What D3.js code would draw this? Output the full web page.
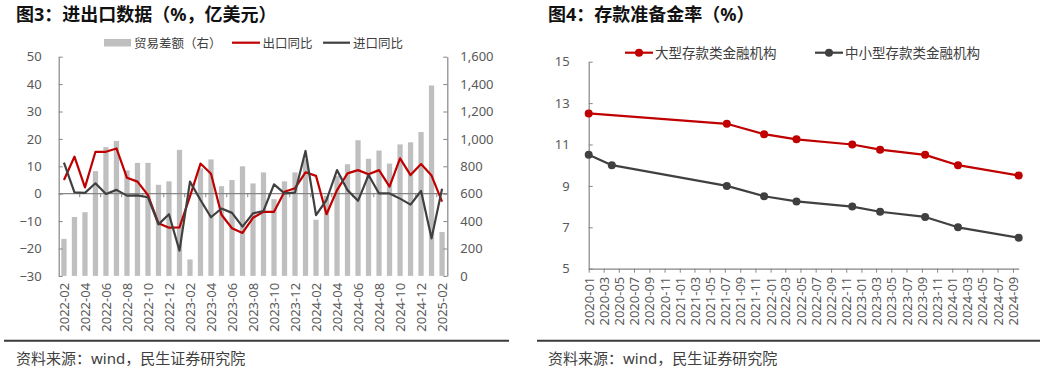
<!DOCTYPE html>
<html><head><meta charset="utf-8">
<script src="https://cdn.jsdelivr.net/npm/d3@7"></script>
<style>
body{margin:0;background:#fff;}
svg{font-family:"Noto Sans","Noto Sans CJK SC",sans-serif;}
</style></head><body>
<svg id="c" width="1043" height="370"></svg>
<script>
// ---------- Left chart data (图3) ----------
const months = ["2022-02","2022-03","2022-04","2022-05","2022-06","2022-07","2022-08","2022-09","2022-10","2022-11","2022-12",
"2023-01","2023-02","2023-03","2023-04","2023-05","2023-06","2023-07","2023-08","2023-09","2023-10","2023-11","2023-12",
"2024-01","2024-02","2024-03","2024-04","2024-05","2024-06","2024-07","2024-08","2024-09","2024-10","2024-11","2024-12",
"2025-01","2025-02"];
const tradeBalance = [270,430,465,765,940,985,770,825,825,665,690,920,120,785,850,655,700,800,675,755,560,690,755,850,410,585,730,815,990,855,915,820,960,975,1050,1390,320];
const exportYoY = [5.0,13.5,2.3,15.3,15.3,16.5,5.8,4.4,-0.5,-10.8,-12.4,-12.3,-1.0,11.0,7.3,-7.7,-12.6,-14.3,-8.8,-6.6,-6.6,0.7,2.0,7.8,6.5,-7.5,1.3,7.4,8.6,7.1,8.6,2.6,12.9,6.8,10.8,6.6,-2.9];
const importYoY = [11.3,0.5,0.3,3.8,-0.1,1.4,-0.7,-0.6,-1.3,-11.2,-7.5,-20.8,4.4,-2.3,-8.6,-5.4,-7.0,-12.0,-7.2,-6.3,3.4,0.1,0.4,15.6,-7.8,-2.3,8.6,1.3,-2.6,6.8,0.1,0.1,-1.8,-4.0,1.0,-16.3,1.8];
const leftTicks = [-30,-20,-10,0,10,20,30,40,50];
const rightTicks = [0,200,400,600,800,1000,1200,1400,1600];
const monthLabels = months.filter((d,i)=>i%2===0);

// ---------- Right chart data (图4) ----------
const largeDates = ["2020-01-01","2021-07-09","2021-12-06","2022-04-15","2022-11-25","2023-03-17","2023-09-14","2024-01-24","2024-09-24"];
const largeRRR  = [12.5,12.0,11.5,11.25,11.0,10.75,10.5,10.0,9.5];
const smallDates = ["2020-01-01","2020-04-03","2021-07-09","2021-12-06","2022-04-15","2022-11-25","2023-03-17","2023-09-14","2024-01-24","2024-09-24"];
const smallRRR  = [10.5,10.0,9.0,8.5,8.25,8.0,7.75,7.5,7.0,6.5];
const rrrTickLabels = ["2020-01","2020-03","2020-05","2020-07","2020-09","2020-11","2021-01","2021-03","2021-05","2021-07","2021-09","2021-11",
"2022-01","2022-03","2022-05","2022-07","2022-09","2022-11","2023-01","2023-03","2023-05","2023-07","2023-09","2023-11",
"2024-01","2024-03","2024-05","2024-07","2024-09"];
const rrrYTicks = [5,7,9,11,13,15];

const RED = "#C00000", DARK = "#404040", BAR = "#BFBFBF", AX = "#868686", TXT = "#595959";
const svg = d3.select("#c");

// ---------- Titles & footers ----------
function panelFrame(x, title, lineX0, lineX1){
  svg.append("text").attr("x", x).attr("y", 21).attr("font-size", 18).attr("font-weight", "bold")
    .attr("fill", "#111").text(title);
  svg.append("line").attr("x1", lineX0).attr("x2", lineX1).attr("y1", 340.7).attr("y2", 340.7)
    .attr("stroke", "#3a3a3a").attr("stroke-width", 2);
  svg.append("text").attr("x", x).attr("y", 364).attr("font-size", 15).attr("fill", "#404040")
    .text("资料来源：wind，民生证券研究院");
}
panelFrame(16, "图3：进出口数据（%，亿美元）", 4, 509);
panelFrame(548, "图4：存款准备金率（%）", 537, 1040);

// ---------- Left chart ----------
const L = {x0:58.7, x1:447.3, yT:56.7, yB:275.9};
const xL = d3.scaleBand().domain(months).range([L.x0, L.x1]).paddingInner(0.5).paddingOuter(0.25);
const yL = d3.scaleLinear().domain([-30,50]).range([L.yB, L.yT]);
const yR = d3.scaleLinear().domain([0,1600]).range([L.yB, L.yT]);
const gL = svg.append("g");

gL.selectAll("rect.bar").data(months).enter().append("rect").attr("class","bar")
  .attr("x", d=>xL(d)).attr("width", xL.bandwidth())
  .attr("y", (d,i)=>yR(tradeBalance[i])).attr("height", (d,i)=>yR(0)-yR(tradeBalance[i]))
  .attr("fill", BAR);

// zero line with category ticks
gL.append("line").attr("x1", L.x0).attr("x2", L.x1).attr("y1", yL(0)).attr("y2", yL(0))
  .attr("stroke", AX).attr("stroke-width", 1.3);
const half = xL.step()*xL.paddingInner()/2;
gL.selectAll("line.ct").data(months.filter((d,i)=>i>0 && i%2===0)).enter().append("line").attr("class","ct")
  .attr("x1", d=>xL(d)-half).attr("x2", d=>xL(d)-half)
  .attr("y1", yL(0)).attr("y2", yL(0)+3.5).attr("stroke", AX).attr("stroke-width", 1);

const lineL = arr => d3.line().x((d,i)=>xL(months[i])+xL.bandwidth()/2).y(d=>yL(d))(arr);
gL.append("path").attr("d", lineL(exportYoY)).attr("fill","none").attr("stroke", RED).attr("stroke-width", 2.2).attr("stroke-linejoin","round");
gL.append("path").attr("d", lineL(importYoY)).attr("fill","none").attr("stroke", DARK).attr("stroke-width", 2.2).attr("stroke-linejoin","round");

function styleAxis(g){
  g.select(".domain").attr("stroke", AX).attr("stroke-width", 1.2);
  g.selectAll(".tick line").attr("stroke", AX);
  g.selectAll("text").attr("fill", TXT).attr("font-size", 13).attr("font-family", "\"Noto Sans\",\"Noto Sans CJK SC\",sans-serif");
}
const axL = gL.append("g").attr("transform", `translate(${L.x0},0)`)
  .call(d3.axisLeft(yL).tickValues(leftTicks).tickSizeInner(-4).tickSizeOuter(0).tickPadding(17));
styleAxis(axL);
const axR = gL.append("g").attr("transform", `translate(${L.x1},0)`)
  .call(d3.axisRight(yR).tickValues(rightTicks).tickFormat(d3.format(",")).tickSizeInner(-4).tickSizeOuter(0).tickPadding(13));
styleAxis(axR);
const axB = gL.append("g").attr("transform", `translate(0,${L.yB})`)
  .call(d3.axisBottom(xL).tickValues(monthLabels).tickSize(0));
axB.select(".domain").remove();
styleAxis(axB);
axB.selectAll("text").attr("transform","rotate(-90)").attr("x",-7).attr("y",0).attr("dy","0.35em").style("text-anchor","end");

// left legend
const lg = gL.append("g").attr("font-size", 12.5).attr("fill", "#404040");
lg.append("rect").attr("x",104).attr("y",39).attr("width",27).attr("height",7.5).attr("fill",BAR);
lg.append("text").attr("x",134).attr("y",47.5).text("贸易差额（右）");
lg.append("line").attr("x1",232).attr("x2",260).attr("y1",42.7).attr("y2",42.7).attr("stroke",RED).attr("stroke-width",2.2);
lg.append("text").attr("x",262.5).attr("y",47.5).text("出口同比");
lg.append("line").attr("x1",323).attr("x2",350).attr("y1",42.7).attr("y2",42.7).attr("stroke",DARK).attr("stroke-width",2.2);
lg.append("text").attr("x",353).attr("y",47.5).text("进口同比");

// ---------- Right chart ----------
const P = {x0:588.7, x1:1018.7, yT:61.7, yB:268.7};
const parseD = d3.timeParse("%Y-%m-%d"), parseM = d3.timeParse("%Y-%m");
const xT = d3.scaleTime().domain([parseD(largeDates[0]), parseD(largeDates[largeDates.length-1])]).range([P.x0, P.x1]);
const yT = d3.scaleLinear().domain([5,15]).range([P.yB, P.yT]);
const gR = svg.append("g");

const axRL = gR.append("g").attr("transform", `translate(${P.x0},0)`)
  .call(d3.axisLeft(yT).tickValues(rrrYTicks).tickSizeInner(-4).tickSizeOuter(0).tickPadding(19));
styleAxis(axRL);
const axRB = gR.append("g").attr("transform", `translate(0,${P.yB})`)
  .call(d3.axisBottom(xT).tickValues(rrrTickLabels.map(parseM)).tickFormat(d3.timeFormat("%Y-%m")).tickSizeInner(4).tickSizeOuter(0));
styleAxis(axRB);
axRB.selectAll("text").attr("transform","rotate(-90)").attr("x",-8).attr("y",0).attr("dy","0.35em").style("text-anchor","end");

function series(dates, vals, color){
  const pts = dates.map((d,i)=>({d:parseD(d), v:vals[i]}));
  gR.append("path").attr("d", d3.line().x(p=>xT(p.d)).y(p=>yT(p.v))(pts))
    .attr("fill","none").attr("stroke",color).attr("stroke-width",2.2).attr("stroke-linejoin","round");
  gR.selectAll(null).data(pts).enter().append("circle")
    .attr("cx",p=>xT(p.d)).attr("cy",p=>yT(p.v)).attr("r",4).attr("fill",color);
}
series(smallDates, smallRRR, DARK);
series(largeDates, largeRRR, RED);

// right legend
const rg = gR.append("g").attr("font-size", 13.5).attr("fill", "#404040");
rg.append("line").attr("x1",625).attr("x2",653).attr("y1",52.7).attr("y2",52.7).attr("stroke",RED).attr("stroke-width",2.2);
rg.append("circle").attr("cx",639).attr("cy",52.7).attr("r",4).attr("fill",RED);
rg.append("text").attr("x",655).attr("y",57.5).text("大型存款类金融机构");
rg.append("line").attr("x1",815).attr("x2",843).attr("y1",52.7).attr("y2",52.7).attr("stroke",DARK).attr("stroke-width",2.2);
rg.append("circle").attr("cx",829).attr("cy",52.7).attr("r",4).attr("fill",DARK);
rg.append("text").attr("x",845).attr("y",57.5).text("中小型存款类金融机构");
</script>
</body></html>
